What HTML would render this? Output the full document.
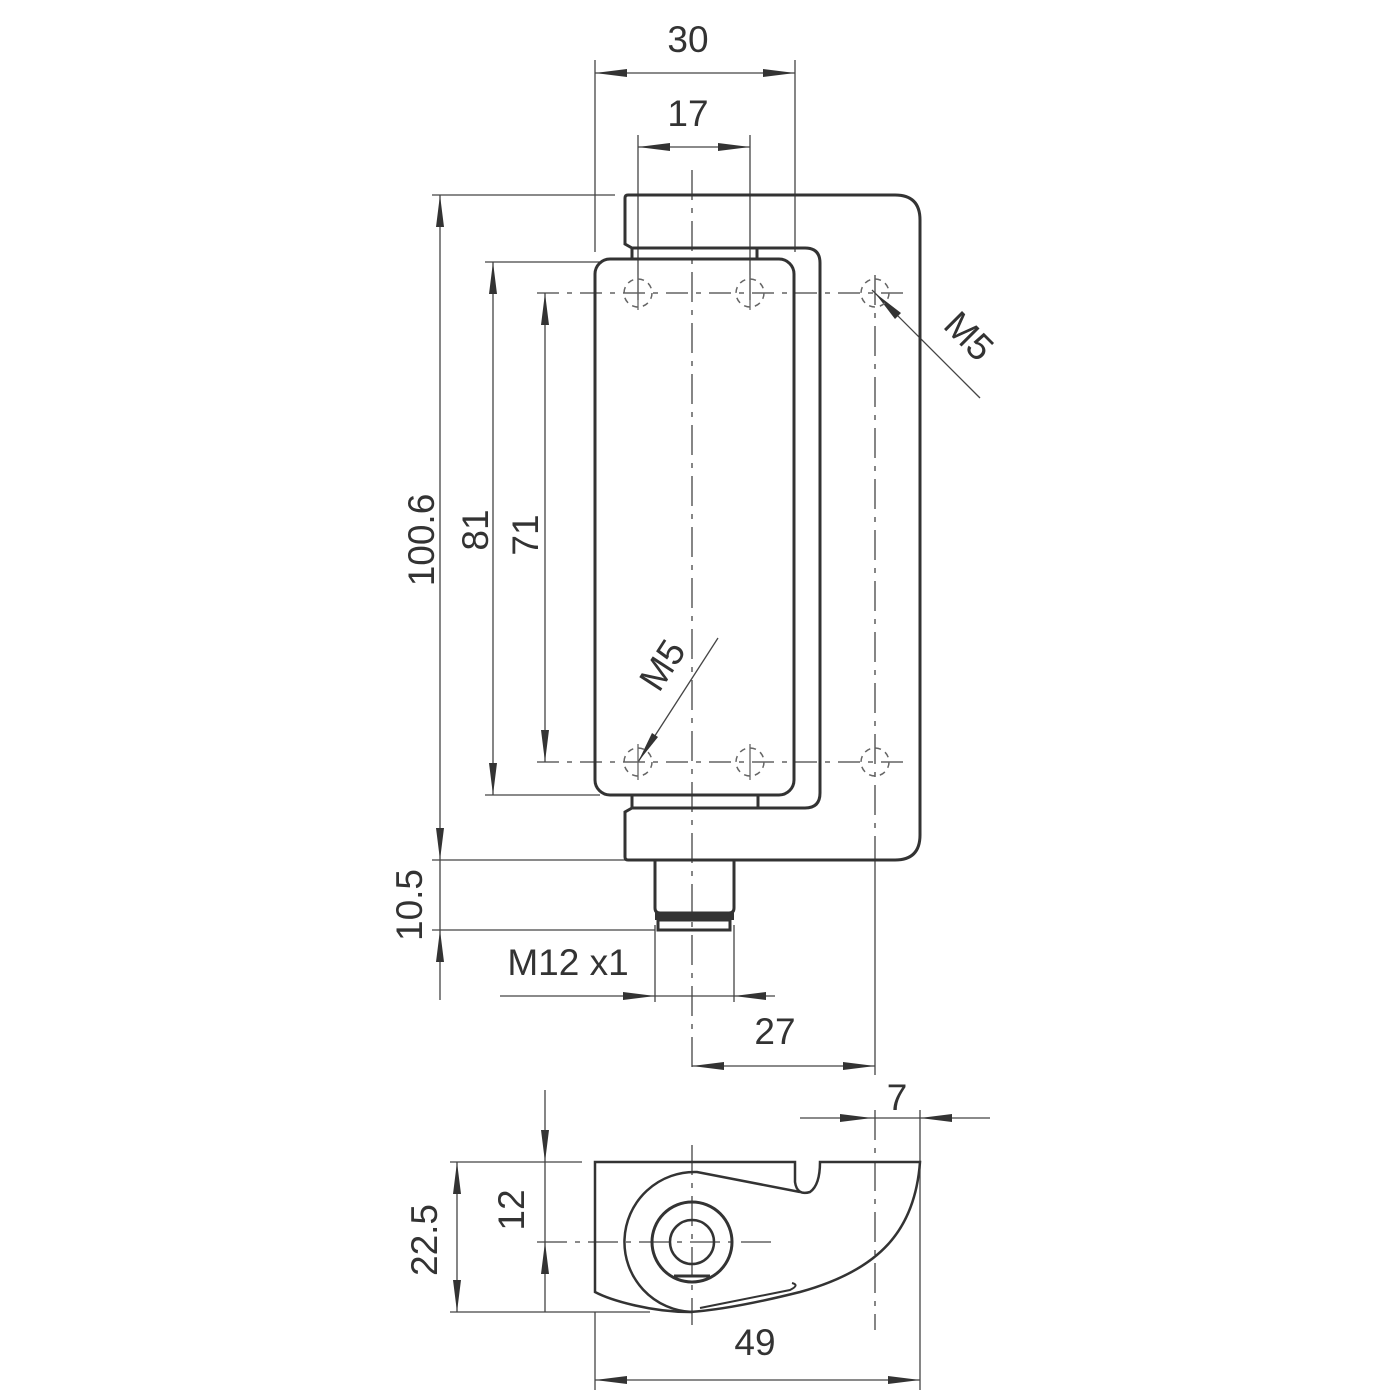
<!DOCTYPE html>
<html><head><meta charset="utf-8"><style>
html,body{margin:0;padding:0;background:#fff}
svg{display:block}
text{font-family:"Liberation Sans",sans-serif;font-size:37px;fill:#333}
</style></head><body>
<svg width="1397" height="1397" viewBox="0 0 1397 1397" xmlns="http://www.w3.org/2000/svg">
<g fill="none" stroke="#444" stroke-width="1.3">
<!-- extension lines -->
<line x1="595" y1="60" x2="595" y2="252"/>
<line x1="795" y1="60" x2="795" y2="252"/>
<line x1="638" y1="135" x2="638" y2="300"/>
<line x1="750" y1="135" x2="750" y2="300"/>
<line x1="432" y1="195" x2="615" y2="195"/>
<line x1="485" y1="262" x2="600" y2="262"/>
<line x1="537" y1="293" x2="905" y2="293" stroke-dasharray="22,8,5,8"/>
<line x1="485" y1="795" x2="600" y2="795"/>
<line x1="537" y1="762" x2="905" y2="762" stroke-dasharray="22,8,5,8"/>
<line x1="432" y1="860" x2="630" y2="860"/>
<line x1="432" y1="930" x2="655" y2="930"/>
<line x1="655" y1="925" x2="655" y2="1002"/>
<line x1="734" y1="925" x2="734" y2="1002"/>
<line x1="875" y1="860" x2="875" y2="1075"/>
<line x1="875" y1="1110" x2="875" y2="1330" stroke-dasharray="30,8,5,8"/>
<line x1="920" y1="1110" x2="920" y2="1390"/>
<line x1="595" y1="1312" x2="595" y2="1390"/>
<line x1="450" y1="1162" x2="582" y2="1162"/>
<line x1="537" y1="1242" x2="775" y2="1242" stroke-dasharray="30,8,5,8"/>
<line x1="450" y1="1312" x2="650" y2="1312"/>
<!-- center lines -->
<line x1="692" y1="170" x2="692" y2="1075" stroke-dasharray="30,8,5,8"/>
<line x1="692" y1="1145" x2="692" y2="1325" stroke-dasharray="30,8,5,8"/>
<line x1="875" y1="275" x2="875" y2="860" stroke-dasharray="30,8,5,8"/>
<!-- dimension lines -->
<line x1="595" y1="73" x2="795" y2="73"/>
<line x1="638" y1="147" x2="750" y2="147"/>
<line x1="440" y1="195" x2="440" y2="1000"/>
<line x1="493" y1="262" x2="493" y2="795"/>
<line x1="545" y1="293" x2="545" y2="762"/>
<line x1="500" y1="996" x2="775" y2="996"/>
<line x1="692" y1="1066" x2="875" y2="1066"/>
<line x1="800" y1="1118" x2="990" y2="1118"/>
<line x1="457" y1="1162" x2="457" y2="1312"/>
<line x1="545" y1="1090" x2="545" y2="1312"/>
<line x1="595" y1="1380" x2="920" y2="1380"/>
<line x1="872" y1="290" x2="980" y2="398"/>
<line x1="638" y1="762" x2="718" y2="638"/>
</g>
<g fill="#333">
<polygon points="595,73 627,69 627,77"/><polygon points="795,73 763,69 763,77"/>
<polygon points="638,147 670,143 670,151"/><polygon points="750,147 718,143 718,151"/>
<polygon points="440,195 436,227 444,227"/><polygon points="440,860 436,828 444,828"/>
<polygon points="493,262 489,294 497,294"/><polygon points="493,795 489,763 497,763"/>
<polygon points="545,293 541,325 549,325"/><polygon points="545,762 541,730 549,730"/>
<polygon points="440,930 436,962 444,962"/>
<polygon points="655,996 623,992 623,1000"/><polygon points="734,996 766,992 766,1000"/>
<polygon points="692,1066 724,1062 724,1070"/><polygon points="875,1066 843,1062 843,1070"/>
<polygon points="872,1118 840,1114 840,1122"/><polygon points="920,1118 952,1114 952,1122"/>
<polygon points="457,1162 453,1194 461,1194"/><polygon points="457,1312 453,1280 461,1280"/>
<polygon points="545,1162 541,1130 549,1130"/><polygon points="545,1242 541,1274 549,1274"/>
<polygon points="595,1380 627,1376 627,1384"/><polygon points="920,1380 888,1376 888,1384"/>
<polygon points="875,293 895,319 901,313"/>
<polygon points="638,762 658,737 652,733"/>
</g>
<g fill="none" stroke="#333" stroke-width="3">
<!-- outer body -->
<path d="M632,248 L625,244 V198 Q625,195 628,195 H895 Q920,195 920,220 V835 Q920,860 895,860 H628 Q625,860 625,857 V812 L632,808"/>
<path d="M632,248 H805 Q820,248 820,263 V793 Q820,808 805,808 H632"/>
<line x1="632" y1="248" x2="632" y2="259"/><line x1="757" y1="248" x2="757" y2="259"/>
<line x1="632" y1="795" x2="632" y2="808"/><line x1="758" y1="795" x2="758" y2="808"/>
<rect x="595" y="259" width="199" height="536" rx="15"/>
<!-- connector -->
<path d="M655,860 V908 Q655,913 660,913 H729 Q734,913 734,908 V860"/>
<rect x="658" y="920" width="72" height="10"/>
<!-- bottom view -->
<path d="M595,1162 H795 V1182 Q797,1196 810,1192 Q820,1185 820,1162 H920 C915,1230 880,1270 800,1292 C760,1302 720,1310 690,1312 C650,1312 610,1300 595,1292 Z" stroke-width="2.5"/>
<path d="M800,1192 L697,1172 A70,70 0 0 0 692,1312" stroke-width="2.5"/>
<path d="M700,1308 L790,1290 Q800,1285 792,1283" stroke-width="2"/>
<circle cx="692" cy="1242" r="40"/>
<circle cx="692" cy="1242" r="22" stroke-width="2.5"/>
</g>
<line x1="674" y1="1276" x2="710" y2="1276" stroke="#333" stroke-width="3"/>
<rect x="655" y="912" width="79" height="8" fill="#333"/>
<g fill="none" stroke="#666" stroke-width="1.5" stroke-dasharray="6,5">
<circle cx="638" cy="293" r="14"/><circle cx="750" cy="293" r="14"/><circle cx="875" cy="293" r="14"/>
<circle cx="638" cy="762" r="14"/><circle cx="750" cy="762" r="14"/><circle cx="875" cy="762" r="14"/>
</g>
<g stroke="#666" stroke-width="1.3">
<line x1="638" y1="275" x2="638" y2="310"/><line x1="750" y1="275" x2="750" y2="310"/>
<line x1="638" y1="744" x2="638" y2="780"/><line x1="750" y1="744" x2="750" y2="780"/>
</g>
<text x="688" y="52" text-anchor="middle">30</text>
<text x="688" y="126" text-anchor="middle">17</text>
<text x="775" y="1044" text-anchor="middle">27</text>
<text x="897" y="1110" text-anchor="middle">7</text>
<text x="755" y="1355" text-anchor="middle">49</text>
<text x="568" y="975" text-anchor="middle">M12 x1</text>
<text transform="translate(434,540) rotate(-90)" text-anchor="middle">100.6</text>
<text transform="translate(488,530) rotate(-90)" text-anchor="middle">81</text>
<text transform="translate(538,535) rotate(-90)" text-anchor="middle">71</text>
<text transform="translate(422,905) rotate(-90)" text-anchor="middle">10.5</text>
<text transform="translate(437,1240) rotate(-90)" text-anchor="middle">22.5</text>
<text transform="translate(524,1210) rotate(-90)" text-anchor="middle">12</text>
<text transform="translate(960,345) rotate(45)" text-anchor="middle">M5</text>
<text transform="translate(673,672) rotate(-57)" text-anchor="middle">M5</text>
</svg>
</body></html>
